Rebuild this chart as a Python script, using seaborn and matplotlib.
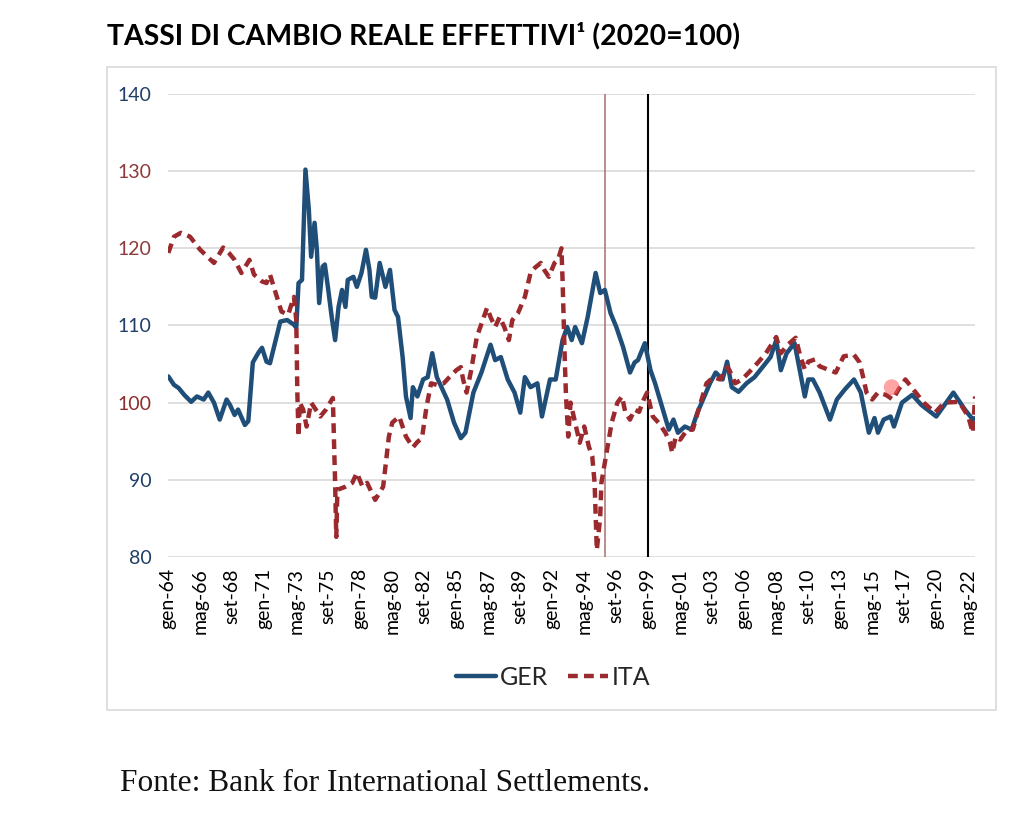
import matplotlib
matplotlib.use("Agg")
import matplotlib.pyplot as plt
import seaborn as sns
import pandas as pd
from matplotlib.patches import Rectangle

ger_dates = [
    "1964-01", "1964-06", "1964-10", "1965-03", "1965-09", "1966-02", "1966-08", "1966-12",
    "1967-05", "1967-10", "1968-04", "1968-07", "1968-11", "1969-02", "1969-08", "1969-11",
    "1970-03", "1970-08", "1970-11", "1971-03", "1971-06", "1971-11", "1972-03", "1972-09",
    "1973-03", "1973-05", "1973-07", "1973-10", "1974-01", "1974-04", "1974-06", "1974-09",
    "1974-11", "1975-01", "1975-04", "1975-06", "1975-09", "1975-12", "1976-03", "1976-06",
    "1976-09", "1976-12", "1977-02", "1977-07", "1977-10", "1978-02", "1978-06", "1978-09",
    "1978-11", "1979-02", "1979-06", "1979-11", "1980-03", "1980-07", "1980-10", "1981-02",
    "1981-05", "1981-09", "1981-11", "1982-03", "1982-08", "1982-12", "1983-04", "1983-08",
    "1983-12", "1984-05", "1984-11", "1985-05", "1985-09", "1986-04", "1986-11", "1987-07",
    "1987-11", "1988-04", "1988-10", "1989-04", "1989-09", "1990-01", "1990-06", "1990-12",
    "1991-04", "1991-11", "1992-04", "1992-10", "1993-02", "1993-06", "1993-09", "1994-03",
    "1994-08", "1995-03", "1995-07", "1995-11", "1996-04", "1996-09", "1997-03", "1997-09",
    "1998-01", "1998-04", "1998-10", "1999-03", "1999-07", "2000-01", "2000-07", "2000-11",
    "2001-03", "2001-09", "2002-03", "2002-08", "2003-02", "2003-07", "2003-12", "2004-06",
    "2004-10", "2005-02", "2005-08", "2006-03", "2006-10", "2007-05", "2007-12", "2008-05",
    "2008-09", "2009-02", "2009-09", "2010-01", "2010-06", "2010-09", "2011-01", "2011-07",
    "2012-04", "2012-10", "2013-05", "2014-01", "2014-07", "2015-02", "2015-07", "2015-10",
    "2016-03", "2016-09", "2016-12", "2017-07", "2018-04", "2018-12", "2020-01", "2021-04",
    "2022-02", "2022-09", "2022-11",
]
ger_values = [
    103.4, 102.3, 101.9, 101.0, 100.1, 100.8, 100.4, 101.3,
    100.0, 97.8, 100.4, 99.7, 98.4, 99.1, 97.1, 97.6,
    105.2, 106.5, 107.1, 105.3, 105.1, 108.1, 110.5, 110.7,
    110.1, 109.7, 115.5, 115.9, 130.2, 125.0, 118.9, 123.3,
    119.8, 112.9, 117.6, 117.9, 114.6, 111.1, 108.1, 112.4,
    114.6, 112.4, 115.9, 116.3, 115.0, 116.8, 119.8, 117.2,
    113.7, 113.6, 118.1, 115.0, 117.2, 112.0, 111.1, 105.9,
    100.8, 98.0, 102.0, 100.8, 103.0, 103.3, 106.4, 103.3,
    102.0, 100.4, 97.4, 95.4, 96.1, 101.3, 103.9, 107.5,
    105.5, 105.9, 103.0, 101.3, 98.7, 103.3, 102.0, 102.5,
    98.2, 103.0, 103.0, 108.1, 109.8, 108.1, 109.8, 107.7,
    111.1, 116.8, 114.2, 114.6, 111.6, 109.8, 107.2, 103.9,
    105.2, 105.5, 107.7, 104.2, 102.5, 99.5, 96.5, 97.8,
    96.1, 96.9, 96.5, 98.7, 100.8, 102.5, 103.9, 103.0,
    105.3, 102.0, 101.4, 102.5, 103.3, 104.6, 105.9, 108.1,
    104.2, 106.4, 107.7, 104.6, 100.8, 103.0, 103.0, 101.3,
    97.8, 100.4, 101.7, 103.0, 101.3, 96.1, 98.0, 96.1,
    97.8, 98.2, 96.9, 100.0, 101.0, 99.7, 98.2, 101.3,
    99.1, 97.8, 98.0,
]

ita_dates = [
    "1964-01", "1964-06", "1964-12", "1965-08", "1966-05", "1967-05", "1968-01", "1968-06",
    "1968-11", "1969-05", "1969-12", "1970-04", "1970-11", "1971-03", "1971-06", "1971-11",
    "1972-04", "1972-10", "1972-12", "1973-03", "1973-05", "1973-06", "1973-07", "1973-08",
    "1973-11", "1974-02", "1974-06", "1975-02", "1975-07", "1976-01", "1976-03", "1976-04",
    "1976-05", "1976-12", "1977-06", "1977-10", "1978-03", "1978-07", "1979-02", "1979-09",
    "1980-02", "1980-05", "1980-11", "1981-05", "1981-11", "1982-03", "1982-07", "1982-11",
    "1983-03", "1983-08", "1984-02", "1984-07", "1985-01", "1985-05", "1985-07", "1985-10",
    "1986-02", "1986-07", "1987-04", "1987-07", "1987-11", "1988-03", "1988-07", "1988-11",
    "1989-02", "1989-07", "1990-01", "1990-06", "1990-10", "1991-03", "1991-06", "1991-10",
    "1992-03", "1992-06", "1992-09", "1992-10", "1992-12", "1993-01", "1993-03", "1993-05",
    "1993-09", "1994-01", "1994-05", "1994-09", "1994-12", "1995-02", "1995-04", "1995-07",
    "1995-08", "1995-11", "1996-05", "1996-10", "1997-02", "1997-05", "1997-09", "1998-01",
    "1998-05", "1998-09", "1998-12", "1999-05", "1999-10", "2000-04", "2000-08", "2000-10",
    "2001-01", "2001-05", "2001-11", "2002-04", "2002-09", "2003-04", "2003-10", "2004-04",
    "2004-10", "2004-12", "2005-05", "2005-11", "2006-05", "2007-01", "2007-08", "2008-05",
    "2008-09", "2009-03", "2009-10", "2010-02", "2010-06", "2010-09", "2011-03", "2011-07",
    "2012-02", "2012-09", "2013-04", "2014-01", "2014-06", "2014-09", "2014-12", "2015-05",
    "2015-10", "2016-05", "2016-11", "2017-04", "2017-10", "2018-05", "2019-02", "2019-12",
    "2020-08", "2021-09", "2022-05", "2022-09", "2022-11",
]
ita_values = [
    119.4, 121.5, 122.0, 121.5, 119.8, 118.1, 120.1, 119.4,
    118.5, 116.8, 118.5, 116.6, 115.7, 115.5, 116.6, 114.2,
    111.8, 111.4, 112.4, 113.7, 110.7, 100.8, 95.6, 100.0,
    99.1, 96.9, 100.0, 98.2, 99.1, 100.6, 89.6, 82.6,
    88.7, 89.1, 89.6, 90.9, 89.1, 89.6, 87.4, 89.1,
    95.6, 97.4, 98.2, 95.6, 94.2, 94.9, 95.4, 99.5,
    102.5, 102.3, 102.5, 103.3, 104.2, 104.6, 103.0, 101.3,
    104.2, 108.5, 112.3, 111.1, 109.8, 111.1, 109.8, 108.1,
    110.7, 111.6, 113.7, 116.8, 117.5, 118.1, 117.2, 116.3,
    118.1, 118.5, 120.0, 115.9, 105.2, 100.8, 95.6, 100.0,
    97.4, 94.8, 96.9, 94.3, 93.0, 89.6, 80.9, 85.2,
    89.6, 92.2, 97.4, 100.0, 100.8, 98.7, 97.8, 99.1,
    98.8, 100.4, 101.3, 98.2, 97.4, 96.1, 94.8, 93.5,
    95.6, 95.2, 96.5, 96.5, 99.1, 102.5, 103.3, 103.0,
    104.6, 104.2, 102.5, 103.0, 103.9, 105.2, 106.4, 108.5,
    106.4, 107.5, 108.4, 106.0, 104.3, 105.3, 105.6, 104.7,
    104.3, 103.9, 106.0, 106.2, 105.2, 103.3, 101.3, 100.4,
    101.3, 101.0, 100.4, 101.7, 103.0, 101.7, 100.0, 98.7,
    100.0, 100.1, 98.2, 96.1, 100.8,
]

tick_labels = [
    "gen-64", "mag-66", "set-68", "gen-71", "mag-73", "set-75", "gen-78", "mag-80",
    "set-82", "gen-85", "mag-87", "set-89", "gen-92", "mag-94", "set-96", "gen-99",
    "mag-01", "set-03", "gen-06", "mag-08", "set-10", "gen-13", "mag-15", "set-17",
    "gen-20", "mag-22",
]
y_ticks = [80, 90, 100, 110, 120, 130, 140]
y_tick_colors = ["#1f3f66", "#1f3f66", "#8f2c2c", "#1f3f66", "#8f3a3a", "#8f3a3a", "#1f3f66"]

erm_line = "1995-11"
euro_line = "1999-01"
pointer_date, pointer_value = "2016-10", 102.0

ger_color = "#1f4e79"
ita_color = "#9b2a2e"

df = pd.concat([
    pd.DataFrame({"data": pd.to_datetime(ger_dates), "valore": ger_values, "serie": "GER"}),
    pd.DataFrame({"data": pd.to_datetime(ita_dates), "valore": ita_values, "serie": "ITA"}),
])

sns.set_theme(style="white")
plt.rcParams["font.family"] = ["Lato", "DejaVu Sans"]

fig = plt.figure(figsize=(10.2, 8.35), dpi=100)
ax = fig.add_axes([0.165, 0.333, 0.791, 0.5545])

sns.lineplot(data=df, x="data", y="valore", hue="serie", style="serie",
             palette={"GER": ger_color, "ITA": ita_color},
             dashes={"GER": "", "ITA": (2.2, 1.4)},
             linewidth=3.2, ax=ax)

ax.axvline(pd.Timestamp(erm_line), color="#b07a7a", lw=1.2, zorder=1)
ax.axvline(pd.Timestamp(euro_line), color="black", lw=1.5, zorder=1)
ax.scatter([pd.Timestamp(pointer_date)], [pointer_value], s=130, color="#ff5a5a",
           alpha=0.55, edgecolor="none", zorder=5)

ax.set_ylim(80, 140)
ax.set_yticks(y_ticks)
ax.set_xlim(pd.Timestamp("1964-01-01"), pd.Timestamp("2022-11-01"))
tick_pos = pd.date_range("1964-01-01", periods=len(tick_labels), freq="28MS")
ax.set_xticks(tick_pos)
ax.set_xticklabels(tick_labels, rotation=90, fontsize=14, color="black")
ax.tick_params(axis="y", labelsize=14, pad=12, length=0)
ax.tick_params(axis="x", pad=8, length=0)
for lbl, c in zip(ax.get_yticklabels(), y_tick_colors):
    lbl.set_color(c)

ax.yaxis.grid(True, color="#d9d9d9", lw=1.2)
ax.xaxis.grid(False)
ax.set_xlabel("")
ax.set_ylabel("")
sns.despine(ax=ax, left=True, bottom=True)

handles, labels = ax.get_legend_handles_labels()
ax.get_legend().remove()
leg = fig.legend(handles, labels, loc="center", bbox_to_anchor=(0.542, 0.189), ncol=2,
                 frameon=False, fontsize=18, handlelength=1.6, columnspacing=0.8,
                 handletextpad=0.15)

fig.patches.append(Rectangle((0.105, 0.150), 0.871, 0.770, transform=fig.transFigure,
                             fill=False, edgecolor="#d9d9d9", lw=1.2))

fig.text(0.105, 1 - 36 / 835, "TASSI DI CAMBIO REALE EFFETTIVI\u00b9 (2020=100)",
         fontsize=20.4, fontweight="bold", va="center", ha="left", color="black")
fig.text(0.118, 0.062, "Fonte: Bank for International Settlements.",
         fontsize=22.6, family=["Liberation Serif", "DejaVu Serif"], va="center", ha="left",
         color="#111111")

fig.savefig("out.png", dpi=100)
